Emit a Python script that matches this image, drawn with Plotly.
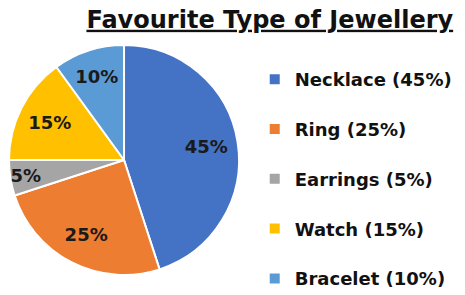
import plotly.graph_objects as go

categories = ["Necklace", "Ring", "Earrings", "Watch", "Bracelet"]
values = [45, 25, 5, 15, 10]
colors = ["#4472C4", "#ED7D31", "#A5A5A5", "#FFC000", "#5B9BD5"]
title_text = "Favourite Type of Jewellery"

legend_labels = [f"{c} ({v}%)<br> " for c, v in zip(categories, values)]
pie_domain = dict(x=[0.0022, 0.4968], y=[0.0949, 0.8746])

# coloured slices + legend
fig = go.Figure(go.Pie(
    labels=legend_labels,
    values=values,
    sort=False,
    direction="clockwise",
    rotation=0,
    marker=dict(colors=colors, line=dict(color="white", width=2)),
    textinfo="none",
    domain=pie_domain,
    hoverinfo="label+percent",
))

# percentage labels placed in an invisible ring so they sit out near 0.7 R
fig.add_trace(go.Pie(
    labels=legend_labels,
    values=values,
    sort=False,
    direction="clockwise",
    rotation=0,
    hole=0.45,
    marker=dict(colors=["rgba(0,0,0,0)"] * len(values), line=dict(width=0)),
    texttemplate="%{percent:.0%}",
    textposition="inside",
    insidetextorientation="horizontal",
    textfont=dict(family="DejaVu Sans", size=18, color="#1a1a1a", weight="bold"),
    domain=pie_domain,
    showlegend=False,
    hoverinfo="skip",
))

fig.update_layout(
    width=465, height=295,
    margin=dict(l=0, r=0, t=0, b=0, autoexpand=False),
    paper_bgcolor="white",
    plot_bgcolor="white",
    uniformtext=dict(minsize=18, mode="show"),
    title=dict(
        text=f"<b><u>{title_text}</u></b>",
        x=0.563, xanchor="center", y=0.99, yanchor="top",
        font=dict(family="DejaVu Sans", size=24, color="#111111"),
    ),
    legend=dict(
        x=0.5306, xanchor="left", y=0.8203, yanchor="top",
        font=dict(family="DejaVu Sans", size=18, color="#111111", weight="bold"),
        valign="top",
        bgcolor="rgba(0,0,0,0)",
    ),
    showlegend=True,
)

fig.write_html("out.html")
